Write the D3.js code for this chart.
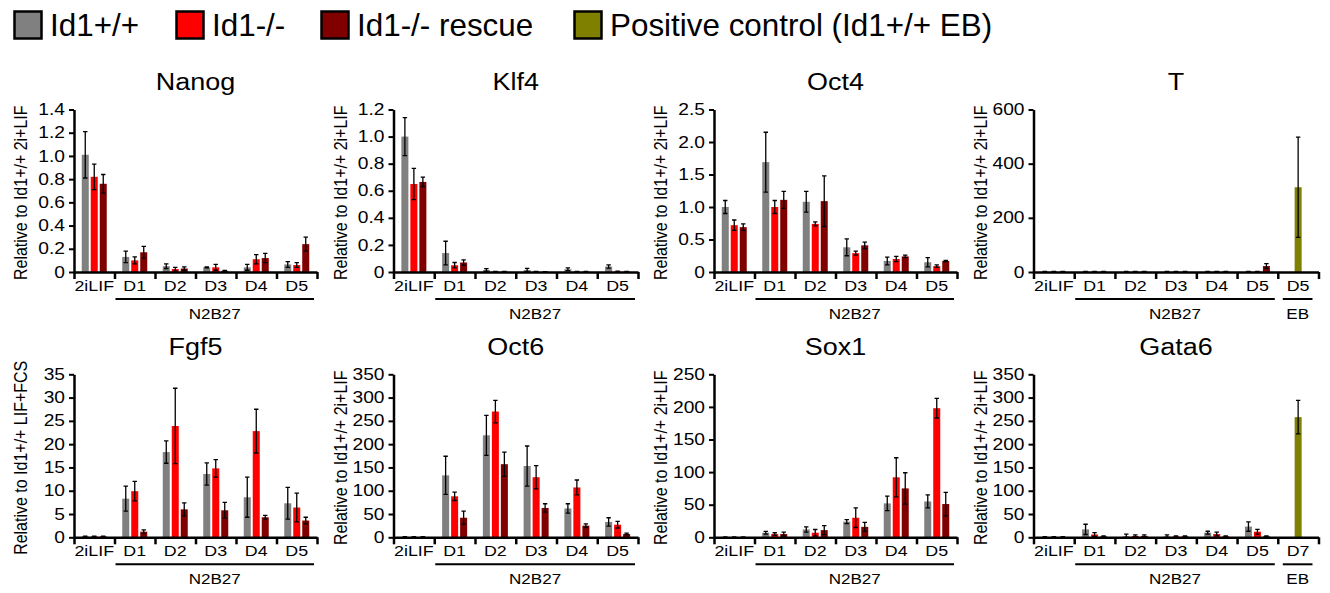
<!DOCTYPE html>
<html>
<head>
<meta charset="utf-8">
<script src="https://cdn.jsdelivr.net/npm/d3@7"></script>
<style>
  body { margin: 0; background: #fff; }
  svg text { font-family: "Liberation Sans", Arial, sans-serif; fill: #000; }
</style>
</head>
<body>
<svg id="chart" width="1330" height="593"></svg>
<script>
// categories and series
const days = ['2iLIF', 'D1', 'D2', 'D3', 'D4', 'D5'];
const genotypes = ['Id1+/+', 'Id1-/-', 'Id1-/- rescue'];
const controlName = 'Positive control (Id1+/+ EB)';
const colours = ['#808080', '#ff0000', '#800000'];
const controlColour = '#808000';

const genes = ['Nanog', 'Klf4', 'Oct4', 'T', 'Fgf5', 'Oct6', 'Sox1', 'Gata6'];
const yLabels = [
	'Relative to Id1+/+ 2i+LIF', 'Relative to Id1+/+ 2i+LIF', 'Relative to Id1+/+ 2i+LIF', 'Relative to Id1+/+ 2i+LIF',
	'Relative to Id1+/+ LIF+FCS', 'Relative to Id1+/+ 2i+LIF', 'Relative to Id1+/+ 2i+LIF', 'Relative to Id1+/+ 2i+LIF'
];
const yTicks = [
	[0, 0.2, 0.4, 0.6, 0.8, 1.0, 1.2, 1.4],
	[0, 0.2, 0.4, 0.6, 0.8, 1.0, 1.2],
	[0, 0.5, 1.0, 1.5, 2.0, 2.5],
	[0, 200, 400, 600],
	[0, 5, 10, 15, 20, 25, 30, 35],
	[0, 50, 100, 150, 200, 250, 300, 350],
	[0, 50, 100, 150, 200, 250],
	[0, 50, 100, 150, 200, 250, 300, 350]
];

// per day: [Id1+/+, Id1-/-, Id1-/- rescue]
const nanogMean = [[1.01, 0.82, 0.76], [0.13, 0.10, 0.17], [0.05, 0.025, 0.03], [0.04, 0.04, 0.01], [0.04, 0.11, 0.12], [0.065, 0.06, 0.24]];
const nanogErr  = [[0.20, 0.11, 0.08], [0.05, 0.03, 0.05], [0.02, 0.015, 0.015], [0.005, 0.025, 0.003], [0.025, 0.04, 0.04], [0.025, 0.02, 0.06]];
const klf4Mean  = [[1.00, 0.65, 0.665], [0.14, 0.05, 0.07], [0.015, 0.003, 0.003], [0.015, 0.003, 0.002], [0.02, 0.003, 0.003], [0.04, 0.004, 0.003]];
const klf4Err   = [[0.14, 0.115, 0.035], [0.087, 0.02, 0.02], [0.01, 0.002, 0.001], [0.012, 0.001, 0.001], [0.01, 0.001, 0.001], [0.012, 0.002, 0.001]];
const oct4Mean  = [[1.00, 0.72, 0.69], [1.69, 1.00, 1.11], [1.08, 0.74, 1.09], [0.38, 0.29, 0.41], [0.17, 0.20, 0.24], [0.15, 0.09, 0.17]];
const oct4Err   = [[0.10, 0.08, 0.05], [0.46, 0.10, 0.13], [0.16, 0.03, 0.39], [0.13, 0.03, 0.05], [0.06, 0.04, 0.02], [0.07, 0.02, 0.01]];
const tMean     = [[1.5, 1.5, 1.5], [1.5, 1.5, 1.5], [1.5, 1.5, 1.5], [1.5, 1.5, 1.5], [1.5, 1.5, 1.5], [1.5, 1.5, 22]];
const tErr      = [[0.5, 0.5, 0.5], [0.5, 0.5, 0.5], [0.5, 0.5, 0.5], [0.5, 0.5, 0.5], [0.5, 0.5, 0.5], [0.5, 0.5, 9]];
const fgf5Mean  = [[0.2, 0.2, 0.2], [8.3, 9.9, 1.2], [18.3, 23.9, 6.0], [13.6, 14.8, 5.8], [8.6, 22.8, 4.3], [7.3, 6.4, 3.6]];
const fgf5Err   = [[0.05, 0.05, 0.05], [2.7, 2.1, 0.4], [2.4, 8.1, 1.4], [2.4, 1.9, 1.7], [4.3, 4.7, 0.4], [3.4, 3.1, 0.7]];
const oct6Mean  = [[1, 1, 1], [133, 88, 42], [219, 270, 157], [153, 129, 63], [62, 107, 25], [33, 27, 7]];
const oct6Err   = [[0.3, 0.3, 0.3], [41, 9, 14], [43, 24, 26], [43, 25, 9], [10, 16, 4], [9, 7, 2]];
const sox1Mean  = [[0.5, 0.5, 0.5], [7, 5, 5], [12, 7, 11], [24, 30, 16], [52, 92, 75], [55, 198, 51]];
const sox1Err   = [[0.2, 0.2, 0.2], [2, 2, 3], [4, 5, 7], [3, 15, 7], [11, 30, 24], [10, 15, 18]];
const gata6Mean = [[1, 1, 1], [17, 6, 2], [2, 3, 3], [2, 2, 2], [10, 7, 2], [23, 12, 2]];
const gata6Err  = [[0.3, 0.3, 0.3], [11, 4, 1], [5, 2, 2], [3, 1, 1], [3, 4, 1], [10, 5, 1]];

// positive control (Id1+/+ EB): [day label, mean, err]
const tControl = ['D5', 313, 185];
const gata6Control = ['D7', 258, 36];

const means = [nanogMean, klf4Mean, oct4Mean, tMean, fgf5Mean, oct6Mean, sox1Mean, gata6Mean];
const errs = [nanogErr, klf4Err, oct4Err, tErr, fgf5Err, oct6Err, sox1Err, gata6Err];
const controls = [null, null, null, tControl, null, null, null, gata6Control];

// layout
const cols = [[74, 317], [393.5, 638], [714, 957], [1033.5, 1318.5]];
const rows = [[109.5, 272], [374.3, 537.3]];
const legendX = [13, 175, 320, 573];

const svg = d3.select('#chart');

// the panel lettering in the figure is a little wider than plain Arial
function stretch(sel, sx) {
	sel.each(function() {
		const t = d3.select(this);
		const xv = +t.attr('x') || 0;
		t.attr('x', xv / sx).attr('transform', 'scale(' + sx + ',1)');
	});
}

// legend
const legend = svg.append('g');
genotypes.concat([controlName]).forEach(function(name, i) {
	const c = i < 3 ? colours[i] : controlColour;
	legend.append('rect')
		.attr('x', legendX[i] + 1.5).attr('y', 11.5)
		.attr('width', 27).attr('height', 27)
		.attr('fill', c).attr('stroke', '#000').attr('stroke-width', 2.5);
	legend.append('text')
		.attr('x', legendX[i] + 37).attr('y', 36)
		.style('font-size', '31.4px')
		.text(name);
});

function fmt(v) {
	if (v == 0) return '0';
	return Number.isInteger(v) && Math.abs(v) >= 5 ? String(v) : v.toFixed(1);
}

genes.forEach(function(gene, i) {
	const [x0, x1] = cols[i % 4];
	const [top, zero] = rows[Math.floor(i / 4)];
	const ticks = yTicks[i];
	const control = controls[i];
	const labels = control ? days.concat([control[0]]) : days;

	const x = d3.scaleBand().domain(d3.range(labels.length)).range([x0, x1]);
	const xEdge = d3.scaleLinear().domain([0, labels.length]).range([x0, x1]);
	const inner = d3.scaleBand().domain([0, 1, 2]).range([-12.5, 12.5]).paddingInner(0.22);
	const y = d3.scaleLinear().domain([0, ticks[ticks.length - 1]]).range([zero, top]);

	const g = svg.append('g').attr('class', 'panel');

	let bars = [];
	means[i].forEach(function(m, d) {
		m.forEach(function(v, k) {
			bars.push({
				cx: x(d) + x.bandwidth() / 2 + inner(k) + inner.bandwidth() / 2,
				v: v, e: errs[i][d][k], fill: colours[k]
			});
		});
	});
	if (control) {
		bars.push({
			cx: x(labels.length - 1) + x.bandwidth() / 2,
			v: control[1], e: control[2], fill: controlColour
		});
	}
	const bw = inner.bandwidth();

	g.selectAll('rect.bar')
		.data(bars)
		.enter().append('rect')
		.attr('class', 'bar')
		.attr('x', d => d.cx - bw / 2)
		.attr('width', bw)
		.attr('y', d => y(d.v))
		.attr('height', d => zero - y(d.v))
		.attr('fill', d => d.fill);

	// error bars
	g.selectAll('path.err')
		.data(bars)
		.enter().append('path')
		.attr('class', 'err')
		.attr('d', function(d) {
			const hi = y(d.v + d.e), lo = y(Math.max(0, d.v - d.e));
			return 'M' + d.cx + ',' + lo + 'V' + hi +
				'M' + (d.cx - 2.2) + ',' + hi + 'H' + (d.cx + 2.2) +
				'M' + (d.cx - 2.2) + ',' + lo + 'H' + (d.cx + 2.2);
		})
		.attr('fill', 'none').attr('stroke', '#000').attr('stroke-width', 1.3);

	// y axis
	const yAxis = g.append('g')
		.attr('transform', 'translate(' + x0 + ',0)')
		.call(d3.axisLeft(y).tickValues(ticks).tickFormat(fmt).tickSize(5).tickSizeOuter(0).tickPadding(4));
	yAxis.select('.domain').attr('stroke-width', 2.5);
	yAxis.selectAll('.tick line').attr('stroke-width', 2);
	yAxis.selectAll('.tick text').style('font-size', '16px').attr('fill', '#000');
	stretch(yAxis.selectAll('.tick text'), 1.2);

	// x axis: boundaries then labels
	const xAxis = g.append('g')
		.attr('transform', 'translate(0,' + zero + ')')
		.call(d3.axisBottom(xEdge).tickValues(d3.range(labels.length + 1)).tickFormat('').tickSize(7).tickSizeOuter(0));
	xAxis.select('.domain').attr('stroke-width', 2.5);
	xAxis.selectAll('.tick line').attr('stroke-width', 2.5);

	const xLab = g.append('g')
		.attr('transform', 'translate(0,' + zero + ')')
		.call(d3.axisBottom(x).tickFormat(d => labels[d]).tickSize(0).tickPadding(8));
	xLab.select('.domain').remove();
	xLab.selectAll('text').style('font-size', '15.5px').attr('fill', '#000');
	stretch(xLab.selectAll('text'), 1.15);

	// condition groups
	let groups = [{ name: 'N2B27', a: x(1) + 1, b: x(5) + x.bandwidth() - 3 }];
	if (control) groups.push({ name: 'EB', a: x(6) + 5, b: x1 - 6 });
	groups.forEach(function(gr) {
		g.append('line')
			.attr('x1', gr.a).attr('x2', gr.b)
			.attr('y1', zero + 27).attr('y2', zero + 27)
			.attr('stroke', '#000').attr('stroke-width', 2);
		const t = g.append('text')
			.attr('x', (gr.a + gr.b) / 2).attr('y', zero + 47)
			.attr('text-anchor', 'middle')
			.style('font-size', '15.5px')
			.text(gr.name);
		stretch(t, 1.1);
	});

	// title
	const title = g.append('text')
		.attr('x', (x0 + x1) / 2).attr('y', top - 19)
		.attr('text-anchor', 'middle')
		.style('font-size', '24.5px')
		.text(gene);
	stretch(title, 1.1);

	// y label, glyphs widened across like the rest of the panel lettering
	g.append('text')
		.attr('transform', 'translate(' + (x0 - 47) + ',' + ((top + zero) / 2 + 2) + ') scale(1.12,1) rotate(-90)')
		.attr('text-anchor', 'middle')
		.style('font-size', '16px')
		.text(yLabels[i]);
});
</script>
</body>
</html>
